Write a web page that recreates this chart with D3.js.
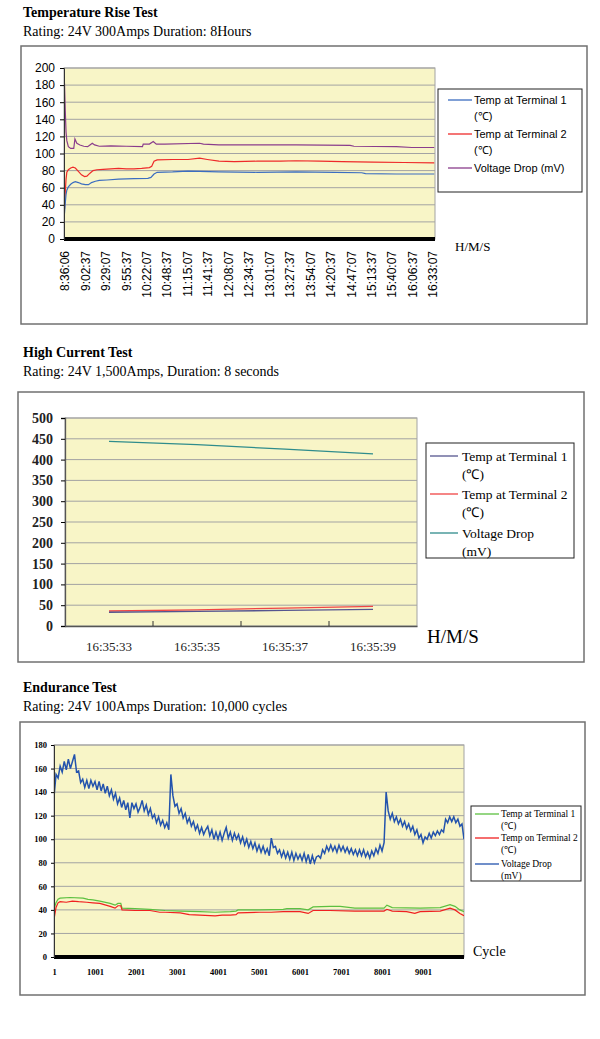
<!DOCTYPE html>
<html lang="en">
<head>
<meta charset="UTF-8">
<title>Temperature Rise / High Current / Endurance Tests</title>
<script src="https://d3js.org/d3.v7.min.js"></script>
<style>
  body { margin: 0; background: #fff; }
  .serif { font-family: "Liberation Serif", "Times New Roman", serif; }
  .sans { font-family: "Liberation Sans", Arial, sans-serif; }
</style>
</head>
<body>
<div id="chart"></div>
<script>
// ---------- Temperature Rise Test (time in minutes after 8:36:06) ----------
const riseLabels = ["8:36:06","9:02:37","9:29:07","9:55:37","10:22:07","10:48:37","11:15:07",
  "11:41:37","12:08:07","12:34:37","13:01:07","13:27:37","13:54:07","14:20:37","14:47:07",
  "15:13:37","15:40:07","16:06:37","16:33:07"];
const riseStep = 26.5; // minutes between labels
const riseYTicks = [0,20,40,60,80,100,120,140,160,180,200];
const riseTemp1 = [[0,30],[1,42],[2,52],[3,57],[5,61],[8,64],[11,66],[14,67],[18,66],[22,64.5],
  [27,63.5],[31,63.5],[35,66],[40,67.5],[45,68.5],[55,69],[70,70],[90,70.5],[108,71],[112,72],
  [116,76],[120,78],[140,78.5],[160,79.5],[175,79],[200,78.5],[250,78],[300,78.5],[350,78],
  [385,77.5],[390,76.5],[430,76],[479,76]];
const riseTemp2 = [[0,35],[1,55],[2,70],[3,78],[5,81],[8,83],[11,84],[14,83],[18,79],[22,75],
  [26,73],[29,73.5],[33,77],[37,80],[42,81],[50,81.5],[60,82],[70,82.5],[80,82],[90,82],
  [100,82.5],[110,83.5],[113,85],[116,91],[120,92.5],[140,93],[160,93],[175,94.5],[185,93],
  [200,91],[220,90.5],[250,91],[280,91],[300,91.5],[330,91],[360,90.5],[400,90],[440,89.5],[479,89]];
const riseVolt = [[0,182],[1,150],[2,125],[3,115],[5,108],[8,106],[12,106],[13.5,117],[16,112],
  [20,110],[25,108.5],[30,108],[33,110],[36,112],[39,110],[45,108.5],[60,109],[80,108.5],
  [101,108],[102,111],[110,111],[115,114],[119,111],[130,111],[175,112],[180,111],[200,110],
  [250,110],[300,110],[370,109.5],[375,108.5],[430,108],[450,107],[479,107]];

// ---------- High Current Test ----------
const hcLabels = ["16:35:33","16:35:35","16:35:37","16:35:39"];
const hcYTicks = [0,50,100,150,200,250,300,350,400,450,500];
const hcTemp1 = [33, 35, 37.5, 40];
const hcTemp2 = [36, 39, 43, 47];
const hcVolt = [444, 436, 425, 414];

// ---------- Endurance Test ----------
const endXTicks = [1,1001,2001,3001,4001,5001,6001,7001,8001,9001];
const endYTicks = [0,20,40,60,80,100,120,140,160,180];
const endTemp1 = [[1,41],[50,46],[100,49],[150,50],[390,50.5],[710,50],[830,49],[950,48.5],
  [1120,47.5],[1370,45.5],[1490,44],[1560,45.5],[1630,45.5],[1660,41.5],[1980,41],[2340,40.5],
  [2710,39.5],[3080,39],[3560,38.5],[3930,38],[4300,38.5],[4440,39],[4490,40],[5020,40],
  [5590,40.5],[5680,41],[6000,41],[6200,40],[6320,42.5],[6730,43],[6980,43],[7340,41.5],
  [8050,41.5],[8120,44],[8250,42],[8930,41.5],[9420,42],[9660,44.5],[9780,43],[9900,40],[10000,38.5]];
const endTemp2 = [[1,32],[50,42],[100,46],[150,47],[300,46.5],[450,47.5],[600,47],[800,46.5],
  [950,46],[1120,45.5],[1370,43],[1490,41.5],[1560,43.5],[1630,43.5],[1660,40],[1980,39.5],
  [2340,39.5],[2580,38],[2710,38],[3080,37.5],[3300,36],[3560,35.5],[3930,35],[4100,35.5],
  [4300,35.5],[4440,36],[4490,37.5],[5020,38],[5300,38],[5590,38.5],[6000,38.5],[6200,37],
  [6320,39.5],[6730,39.5],[7340,39],[8050,39],[8120,40.5],[8250,39],[8600,38.5],[8800,37],
  [8930,38.5],[9420,39],[9660,41.5],[9780,40],[9900,37],[10000,35]];
const endVoltStep = 50; // cycles between samples, first sample at cycle 1
const endVolt = [
  136,155,152,162,157,166,159,168,160,166,
  172,157,158,148,151,144,150,143,150,145,
  149,142,149,141,147,139,145,137,142,134,
  139,130,135,127,133,125,131,118,131,126,
  130,123,127,133,124,129,121,126,118,121,
  114,119,112,116,110,114,108,155,137,128,
  130,122,126,118,122,114,118,111,115,108,
  112,105,110,104,108,111,103,108,100,106,
  100,106,99,105,110,101,106,99,105,100,
  104,97,102,95,100,93,98,92,97,90,
  95,89,94,88,92,86,101,93,94,88,
  91,85,90,84,89,83,89,82,88,83,
  87,82,88,81,87,79,86,80,85,86,
  84,91,88,94,90,95,90,94,89,95,
  90,94,89,93,88,92,87,91,86,91,
  86,91,85,89,84,90,86,92,88,95,
  90,97,140,124,117,122,115,119,113,117,
  111,115,109,113,107,111,104,108,101,104,
  97,102,100,105,101,106,103,107,104,108,
  106,117,114,119,115,119,114,117,111,113,
  100];

const plotFill = "#f8f5c7";
const gridColor = "#a3a3a3";

const svg = d3.select("#chart").append("svg")
  .attr("width", 600).attr("height", 1039);

function header(y, title, sub) {
  svg.append("text").attr("class", "serif").attr("x", 23).attr("y", y)
    .attr("font-size", 14).attr("font-weight", "bold").text(title);
  svg.append("text").attr("class", "serif").attr("x", 23).attr("y", y + 19)
    .attr("font-size", 14).text(sub);
}

function frame(x0, y0, x1, y1) {
  svg.append("rect").attr("x", x0).attr("y", y0).attr("width", x1 - x0).attr("height", y1 - y0)
    .attr("fill", "none").attr("stroke", "#707070").attr("stroke-width", 1.5);
}

function plotArea(xr, y, ticks, id) {
  const [l, r] = xr;
  const [b, t] = y.range();
  svg.append("rect").attr("x", l).attr("y", t).attr("width", r - l).attr("height", b - t)
    .attr("fill", plotFill).attr("stroke", gridColor);
  svg.append("clipPath").attr("id", id).append("rect")
    .attr("x", l).attr("y", t).attr("width", r - l).attr("height", b - t);
  svg.append("g").selectAll("line").data(ticks.slice(1)).join("line")
    .attr("x1", l).attr("x2", r).attr("y1", d => y(d)).attr("y2", d => y(d))
    .attr("stroke", gridColor).attr("stroke-width", 1);
}

// box: [x, y, w, h]; line: [x1, x2]
function legend(box, items, line, textX, font, size, lh) {
  const g = svg.append("g");
  g.append("rect").attr("x", box[0]).attr("y", box[1]).attr("width", box[2]).attr("height", box[3])
    .attr("fill", "#fff").attr("stroke", "#222").attr("stroke-width", 1);
  items.forEach(it => {
    g.append("line").attr("x1", line[0]).attr("x2", line[1])
      .attr("y1", it.y).attr("y2", it.y).attr("stroke", it.color).attr("stroke-width", 1.3);
    const t = g.append("text").attr("class", font).attr("font-size", size)
      .attr("x", textX).attr("y", it.y + size * 0.35);
    it.lines.forEach((s, i) => t.append("tspan").attr("x", textX).attr("dy", i ? lh : 0).text(s));
  });
}

// ================= Chart 1 =================
header(17, "Temperature Rise Test", "Rating: 24V 300Amps Duration: 8Hours");
frame(21, 46, 587, 324);
{
  const x = d3.scaleLinear().domain([0, 480]).range([64.5, 435]);
  const y = d3.scaleLinear().domain([0, 200]).range([239, 68]);
  plotArea([64, 435], y, riseYTicks, "clip1");

  const line = d3.line().x(d => x(d[0])).y(d => y(d[1]));
  const series = [[riseVolt, "#8a3d8c"], [riseTemp2, "#ee2a2a"], [riseTemp1, "#3b6dc0"]];
  series.forEach(([data, c]) => svg.append("path").datum(data).attr("d", line)
    .attr("fill", "none").attr("stroke", c).attr("stroke-width", 1.2)
    .attr("clip-path", "url(#clip1)"));

  svg.append("line").attr("x1", 64).attr("x2", 435).attr("y1", y(0)).attr("y2", y(0))
    .attr("stroke", "#000").attr("stroke-width", 4);

  const ya = svg.append("g").attr("transform", "translate(64,0)")
    .call(d3.axisLeft(y).tickValues(riseYTicks).tickSize(4).tickPadding(5));
  ya.select(".domain").attr("stroke", "#333");
  ya.selectAll("text").attr("class", "sans").attr("font-size", 12).attr("fill", "#000");

  const xa = svg.append("g").attr("transform", `translate(0,${y(0)})`)
    .call(d3.axisBottom(x).tickValues(riseLabels.map((d, i) => i * riseStep))
      .tickFormat((d, i) => riseLabels[i]).tickSize(0));
  xa.select(".domain").remove();
  xa.selectAll("text").attr("class", "sans").attr("font-size", 12).attr("fill", "#000")
    .attr("transform", "rotate(-90)").attr("text-anchor", "end")
    .attr("x", -12).attr("y", 0).attr("dy", "0.35em");

  svg.append("text").attr("class", "serif").attr("font-size", 13)
    .attr("x", 455).attr("y", 251).text("H/M/S");

  legend([438, 89, 144, 103], [
    { y: 100, color: "#3b6dc0", lines: ["Temp at Terminal 1", "(\u2103)"] },
    { y: 134, color: "#ee2a2a", lines: ["Temp at Terminal 2", "(\u2103)"] },
    { y: 168, color: "#8a3d8c", lines: ["Voltage Drop (mV)"] }
  ], [448, 472], 474, "sans", 11, 16);
}

// ================= Chart 2 =================
header(357, "High Current Test", "Rating: 24V 1,500Amps, Duration: 8 seconds");
frame(18, 392, 584, 662);
{
  const x = d3.scaleBand().domain(hcLabels).range([65, 417]);
  const y = d3.scaleLinear().domain([0, 500]).range([626, 418]);
  plotArea(x.range(), y, hcYTicks, "clip2");

  const cx = d => x(d) + x.bandwidth() / 2;
  const line = d3.line().x((d, i) => cx(hcLabels[i])).y(d => y(d));
  const series = [[hcVolt, "#2f8c8c"], [hcTemp2, "#f04545"], [hcTemp1, "#55558f"]];
  series.forEach(([data, c]) => svg.append("path").datum(data).attr("d", line)
    .attr("fill", "none").attr("stroke", c).attr("stroke-width", 1.3));

  const ya = svg.append("g").attr("transform", "translate(65,0)")
    .call(d3.axisLeft(y).tickValues(hcYTicks).tickSize(4).tickPadding(8));
  ya.select(".domain").attr("stroke", "#555").attr("stroke-width", 1.3);
  ya.selectAll("text").attr("class", "serif").attr("font-size", 14)
    .attr("font-weight", "bold").attr("fill", "#222");

  const xa = svg.append("g").attr("transform", `translate(0,${y(0)})`)
    .call(d3.axisBottom(x).tickSize(0).tickPadding(16));
  xa.select(".domain").attr("stroke", "#555").attr("stroke-width", 1.3);
  xa.selectAll("text").attr("class", "serif").attr("font-size", 13).attr("fill", "#222");
  svg.append("g").selectAll("line").data(hcLabels.slice(1)).join("line")
    .attr("x1", d => x(d)).attr("x2", d => x(d)).attr("y1", y(0)).attr("y2", y(0) - 5)
    .attr("stroke", "#333");

  svg.append("text").attr("class", "serif").attr("font-size", 19)
    .attr("x", 427).attr("y", 643).text("H/M/S");

  legend([426, 443, 148, 115], [
    { y: 456, color: "#55558f", lines: ["Temp at Terminal 1", "(\u2103)"] },
    { y: 494, color: "#f04545", lines: ["Temp at Terminal 2", "(\u2103)"] },
    { y: 533, color: "#2f8c8c", lines: ["Voltage Drop", "(mV)"] }
  ], [430, 458], 462, "serif", 13.5, 18);
}

// ================= Chart 3 =================
header(692, "Endurance Test", "Rating: 24V 100Amps Duration: 10,000 cycles");
frame(20, 722, 585, 995);
{
  const x = d3.scaleLinear().domain([1, 10000]).range([54, 464]);
  const y = d3.scaleLinear().domain([0, 180]).range([957, 745]);
  plotArea(x.range(), y, endYTicks, "clip3");

  const line = d3.line().x(d => x(d[0])).y(d => y(d[1]));
  const voltLine = d3.line()
    .x((d, i) => x(Math.min(1 + i * endVoltStep, 10000))).y(d => y(d));
  svg.append("path").datum(endVolt).attr("d", voltLine).attr("fill", "none")
    .attr("stroke", "#2353ad").attr("stroke-width", 1.5).attr("clip-path", "url(#clip3)");
  svg.append("path").datum(endTemp1).attr("d", line).attr("fill", "none")
    .attr("stroke", "#5cc040").attr("stroke-width", 1.2).attr("clip-path", "url(#clip3)");
  svg.append("path").datum(endTemp2).attr("d", line).attr("fill", "none")
    .attr("stroke", "#f02020").attr("stroke-width", 1.2).attr("clip-path", "url(#clip3)");

  svg.append("line").attr("x1", 54).attr("x2", 464).attr("y1", y(0)).attr("y2", y(0))
    .attr("stroke", "#000").attr("stroke-width", 4);

  const ya = svg.append("g").attr("transform", "translate(54,0)")
    .call(d3.axisLeft(y).tickValues(endYTicks).tickSize(3).tickPadding(4));
  ya.select(".domain").attr("stroke", "#333");
  ya.selectAll("text").attr("class", "serif").attr("font-size", 8.5)
    .attr("font-weight", "bold").attr("fill", "#000");

  const xa = svg.append("g").attr("transform", `translate(0,${y(0)})`)
    .call(d3.axisBottom(x).tickValues(endXTicks).tickFormat(d3.format("d")).tickSize(0).tickPadding(12));
  xa.select(".domain").remove();
  xa.selectAll("text").attr("class", "serif").attr("font-size", 8.5)
    .attr("font-weight", "bold").attr("fill", "#000");

  svg.append("text").attr("class", "serif").attr("font-size", 14)
    .attr("x", 473).attr("y", 956).text("Cycle");

  legend([471, 806, 110, 75], [
    { y: 814, color: "#5cc040", lines: ["Temp at Terminal 1", "(\u2103)"] },
    { y: 838, color: "#f02020", lines: ["Temp on Terminal 2", "(\u2103)"] },
    { y: 864, color: "#2353ad", lines: ["Voltage Drop", "(mV)"] }
  ], [475, 499], 501, "serif", 9.5, 12);
}
</script>
</body>
</html>
